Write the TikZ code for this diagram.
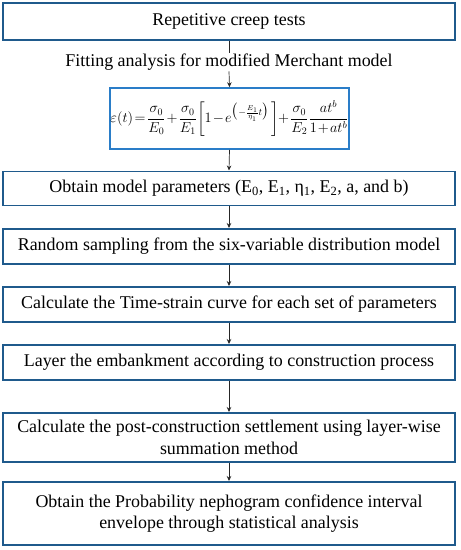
\documentclass[tikz,border=0pt]{standalone}
\usepackage{amsmath}
\usepackage{fontspec}
\setmainfont{Liberation Serif}
\usetikzlibrary{arrows.meta}
\definecolor{boxblue}{HTML}{1F5A8C}
\definecolor{eqblue}{HTML}{2A7DC8}
\tikzset{
  txt/.style={font=\fontsize{18}{21.5}\selectfont},
  stepbox/.style={txt, draw=boxblue, line width=2pt, fill=white, minimum width=452bp, inner sep=0pt, align=center},
  eqbox/.style={draw=eqblue, line width=1.6pt, fill=white, minimum width=239bp, minimum height=61bp, inner sep=0pt, font=\fontsize{14}{16}\selectfont},
  link/.style={draw=black!85, line width=0.7pt},
  arr/.style={link, -{Stealth[length=5pt,width=4.5pt]}}
}
\begin{document}
\begin{tikzpicture}[x=1bp,y=-1bp]
\useasboundingbox (0,0) rectangle (461,550);
\node[stepbox, minimum height=37bp] (b1) at (229,21.5) {Repetitive creep tests};
\node[txt, inner sep=1pt] (fit) at (229,62) {Fitting analysis for modified Merchant model};
\node[eqbox] (eq) at (229.5,118.5) {\thickmuskip=2mu\medmuskip=1.5mu$\displaystyle \varepsilon(t)=\frac{\sigma_0}{E_0}+\frac{\sigma_0}{E_1}\!\left[1-e^{\bigl(-\frac{E_1}{\eta_1}t\bigr)}\,\right]\!+\frac{\sigma_0}{E_2}\frac{at^b}{1+at^b}$};
\node[stepbox, minimum height=34bp] (b3) at (229,188.5) {Obtain model parameters (E\textsubscript{0}, E\textsubscript{1}, η\textsubscript{1}, E\textsubscript{2}, a, and b)};
\node[stepbox, minimum height=35bp] (b4) at (229,246.5) {Random sampling from the six-variable distribution model};
\node[stepbox, minimum height=35bp] (b5) at (229,304.5) {Calculate the Time-strain curve for each set of parameters};
\node[stepbox, minimum height=35bp] (b6) at (229,362.5) {Layer the embankment according to construction process};
\node[stepbox, minimum height=49bp] (b7) at (229,437.5) {Calculate the post-construction settlement using layer-wise\\summation method};
\node[stepbox, minimum height=63bp] (b8) at (229,513.5) {Obtain the Probability nephogram confidence interval\\envelope through statistical analysis};
\draw[link] (b1.south) -- (fit.north);
\draw[arr] (fit.south) -- (eq.north);
\draw[arr] (eq.south) -- (b3.north);
\draw[arr] (b3.south) -- (b4.north);
\draw[arr] (b4.south) -- (b5.north);
\draw[arr] (b5.south) -- (b6.north);
\draw[arr] (b6.south) -- (b7.north);
\draw[arr] (b7.south) -- (b8.north);
\end{tikzpicture}
\end{document}
